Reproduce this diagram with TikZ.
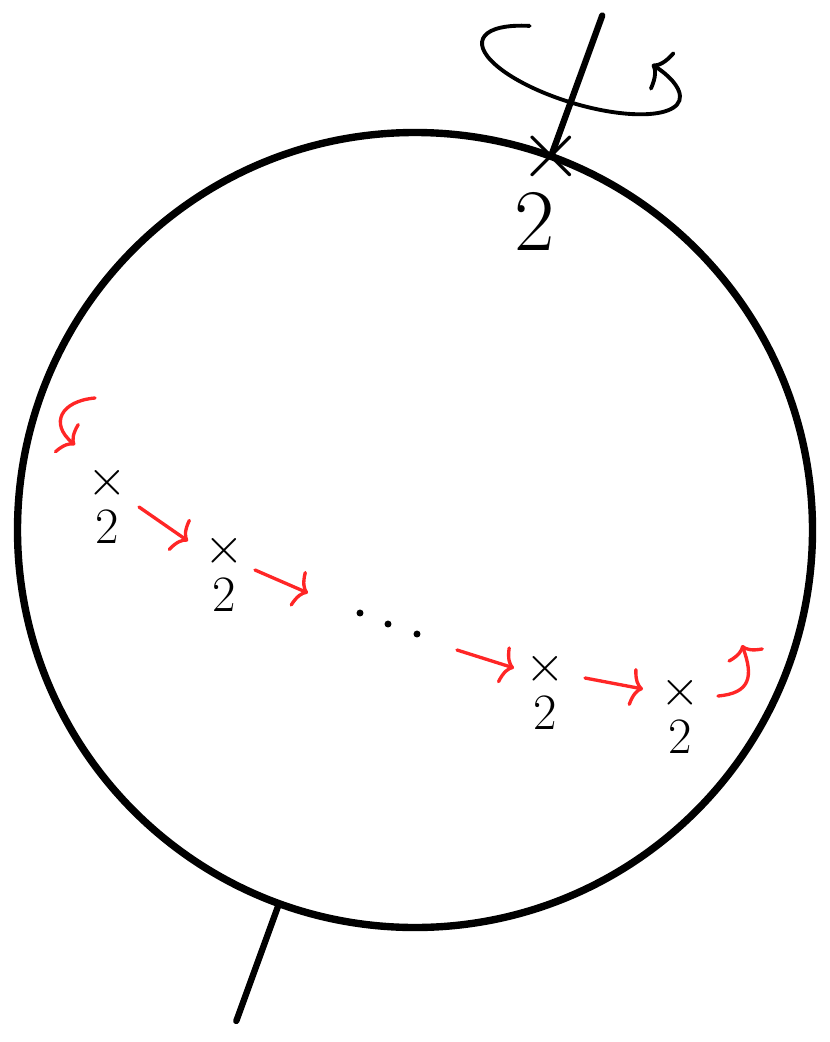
\RequirePackage{fix-cm}
\documentclass[tikz,border=0pt]{standalone}
\usepackage{amsmath,amssymb}
\usepackage{xcolor}
\usepackage{tikz}
\usetikzlibrary{calc,arrows.meta,positioning}
\definecolor{ink}{HTML}{000000}
\definecolor{flow}{HTML}{FF2626}
\tikzset{
  rim/.style={draw=ink, line width=4.2pt},
  axis/.style={draw=ink, line width=3.6pt, line cap=round},
  spin/.style={draw=ink, line width=2.2pt, line cap=round, -{To[length=8pt,width=26pt]}},
  hop/.style={draw=flow, line width=1.9pt, line cap=round, -{To[length=7pt,width=22pt]}},
  dot/.style={circle, fill=ink, inner sep=1.4pt},
  cross/.style={text=ink, inner sep=0pt, font=\fontsize{29}{35}\selectfont},
  num/.style={text=ink, inner sep=0pt, font=\fontsize{29}{35}\selectfont},
  bigcross/.style={cross, font=\fontsize{48}{58}\selectfont},
  bignum/.style={num, font=\fontsize{50}{60}\selectfont},
}

\begin{document}
\begin{tikzpicture}
  \useasboundingbox (0,0) rectangle (16.6,-20.84);
  \def\r{7.95}
  \coordinate (O) at (8.3,-10.6);
  \coordinate (N) at ($(O)+(70:\r)$);
  \coordinate (Ntip) at ($(O)+(70:10.95)$);
  \coordinate (S) at ($(O)+(250:\r)$);
  \coordinate (Stip) at ($(O)+(250:10.45)$);
  \coordinate (C) at (11.62,-1.40);

  \draw[rim] (O) circle (\r);
  \draw[axis] (N) -- (Ntip);
  \draw[axis] (S) -- (Stip);

  % spin about the axis
  \draw[spin, shift={(C)}, rotate=-17] ({2.06*cos(127)},{0.68*sin(127)})
    arc[start angle=127, end angle=410, x radius=2.06, y radius=0.68];

  \node[bigcross] (xN) at (N) {$\times$};
  \node[bignum] (nN) at (10.7,-4.44) {$2$};

  \node[cross] (x1) at (2.14,-9.66) {$\times$};
  \node[num] (n1) at ($(x1)+(0,-0.88)$) {$2$};
  \node[cross] (x2) at (4.48,-11.02) {$\times$};
  \node[num] (n2) at ($(x2)+(0,-0.88)$) {$2$};
  \node[cross] (x3) at (10.9,-13.38) {$\times$};
  \node[num] (n3) at ($(x3)+(0,-0.88)$) {$2$};
  \node[cross] (x4) at (13.6,-13.86) {$\times$};
  \node[num] (n4) at ($(x4)+(0,-0.88)$) {$2$};

  \node[dot] (d1) at (7.2,-12.26) {};
  \node[dot] (d2) at (7.76,-12.48) {};
  \node[dot] (d3) at (8.34,-12.68) {};

  % red hops
  \coordinate (h1a) at (2.78,-10.14);
  \coordinate (h1b) at (3.76,-10.82);
  \coordinate (h2a) at (5.1,-11.4);
  \coordinate (h2b) at (6.16,-11.86);
  \coordinate (h3a) at (9.14,-13.0);
  \coordinate (h3b) at (10.28,-13.36);
  \coordinate (h4a) at (11.7,-13.56);
  \coordinate (h4b) at (12.86,-13.78);
  \draw[hop] (h1a) -- (h1b);
  \draw[hop] (h2a) -- (h2b);
  \draw[hop] (h3a) -- (h3b);
  \draw[hop] (h4a) -- (h4b);

  \coordinate (t1a) at (1.9,-7.96);
  \coordinate (t1b) at (1.5,-8.9);
  \coordinate (t2a) at (14.36,-13.92);
  \coordinate (t2b) at (14.84,-12.9);
  \draw[hop] (t1a) to[out=185, in=140, looseness=1.7] (t1b);
  \draw[hop] (t2a) to[out=5, in=-70, looseness=1.5] (t2b);
\end{tikzpicture}
\end{document}
